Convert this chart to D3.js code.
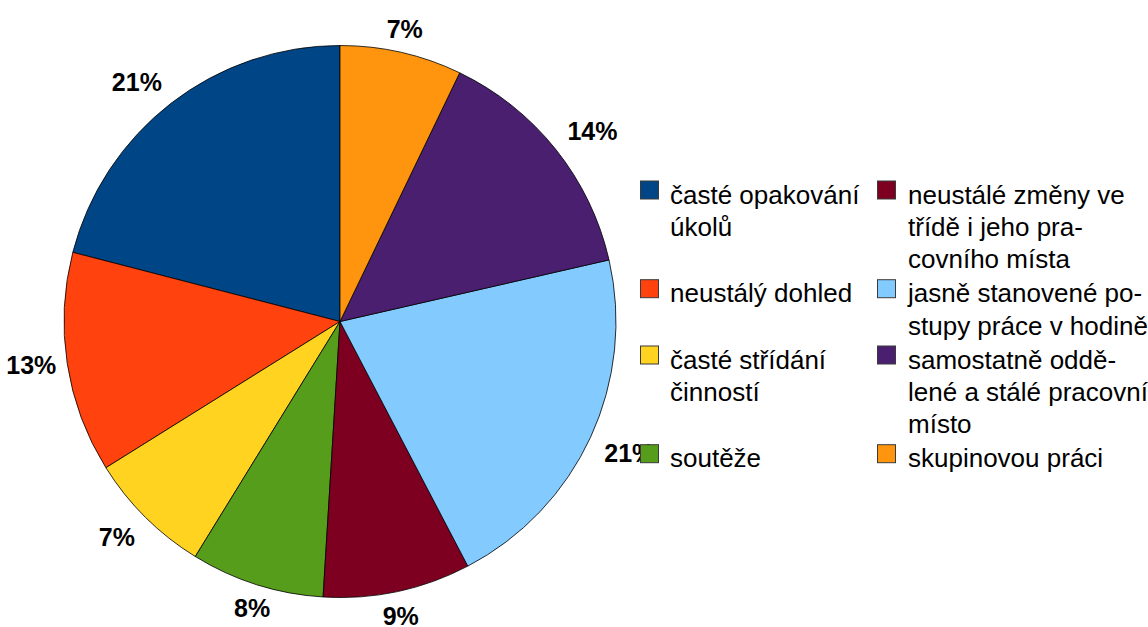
<!DOCTYPE html>
<html>
<head>
<meta charset="utf-8">
<script src="https://cdn.jsdelivr.net/npm/d3@7"></script>
<style>
  html, body { margin: 0; padding: 0; background: #ffffff; }
  svg { display: block; }
</style>
</head>
<body>
<svg id="chart" width="1148" height="627"></svg>
<script>
// ---- data ----
const categories = [
  "časté opakování úkolů",
  "neustálý dohled",
  "časté střídání činností",
  "soutěže",
  "neustálé změny ve třídě i jeho pracovního místa",
  "jasně stanovené postupy práce v hodině",
  "samostatně oddělené a stálé pracovní místo",
  "skupinovou práci"
];
const legendLines = [
  ["časté opakování", "úkolů"],
  ["neustálý dohled"],
  ["časté střídání", "činností"],
  ["soutěže"],
  ["neustálé změny ve", "třídě i jeho pra-", "covního místa"],
  ["jasně stanovené po-", "stupy práce v hodině"],
  ["samostatně oddě-", "lené a stálé pracovní", "místo"],
  ["skupinovou práci"]
];
// shares in percent (labels show them rounded)
const values = [20.97, 12.92, 7.33, 7.81, 8.64, 20.92, 14.28, 7.14];
const colors = ["#004586", "#ff420e", "#ffd320", "#579d1c", "#7e0021", "#83caff", "#4b1f6f", "#ff950e"];

// ---- layout ----
const svg = d3.select("#chart");
const cx = 340, cy = 321.5, R = 276;
const font = "'Liberation Sans', Arial, sans-serif";

const pie = d3.pie().sort(null).value(d => d).startAngle(0).endAngle(-2 * Math.PI);
const arcs = pie(values);
const arc = d3.arc().innerRadius(0).outerRadius(R);

const g = svg.append("g").attr("transform", `translate(${cx},${cy})`);
g.selectAll("path.slice")
  .data(arcs)
  .enter().append("path")
  .attr("class", "slice")
  .attr("d", arc)
  .attr("fill", (d, i) => colors[i])
  .attr("stroke", "#000")
  .attr("stroke-width", 0.8)
  .attr("stroke-linejoin", "round");

// percentage labels: anchored just outside the rim, aligned by sector
const total = d3.sum(values);
const labelR = R + 15;
const capH = 18.5;
g.selectAll("text.pct")
  .data(arcs)
  .enter().append("text")
  .attr("class", "pct")
  .each(function (d) {
    const a = (d.startAngle + d.endAngle) / 2;
    const dx = Math.sin(a), dy = -Math.cos(a);
    let deg = ((a * 180 / Math.PI) % 360 + 360) % 360; // clockwise from top
    const sector = Math.round(deg / 45) % 8;           // 0 top, 1 top-right, 2 right ...
    const r = (sector === 2 || sector === 6) ? labelR - 4 : labelR;
    const x = dx * r, y = dy * r;
    const hAlign = [ "middle", "start", "start", "start", "middle", "end", "end", "end" ][sector];
    const vAlign = [ "bottom", "bottom", "center", "top", "top", "top", "center", "bottom" ][sector];
    const baseY = vAlign === "bottom" ? y : vAlign === "top" ? y + capH : y + capH / 2;
    const txt = Math.round(d.value / total * 100) + "%";
    d3.select(this)
      .attr("x", x)
      .attr("y", baseY)
      .attr("text-anchor", hAlign)
      .attr("font-family", font)
      .attr("font-weight", "bold")
      .attr("font-size", 25)
      .attr("fill", "#000")
      .text(txt);
  });

// ---- legend ----
const colX = [640, 877];
const textX = [670, 908];
const lineH = 32.4, rowGap = 1.5, firstBase = 203.5;
const perCol = 4;
const rowLines = d3.range(perCol).map(r => Math.max(legendLines[r].length, legendLines[r + perCol].length));
const rowBase = [];
let yb = firstBase;
rowLines.forEach((n) => { rowBase.push(yb); yb += n * lineH + rowGap; });

const leg = svg.append("g");
categories.forEach((c, i) => {
  const col = Math.floor(i / perCol), row = i % perCol;
  const base = rowBase[row];
  leg.append("rect")
    .attr("x", colX[col] + 0.5)
    .attr("y", base - 22.5)
    .attr("width", 18)
    .attr("height", 18)
    .attr("fill", colors[i])
    .attr("stroke", "#3b3b3b")
    .attr("stroke-width", 1);
  const t = leg.append("text")
    .attr("font-family", font)
    .attr("font-size", 26)
    .attr("fill", "#000");
  legendLines[i].forEach((ln, k) => {
    t.append("tspan").attr("x", textX[col]).attr("y", base + k * lineH).text(ln);
  });
});
</script>
</body>
</html>
